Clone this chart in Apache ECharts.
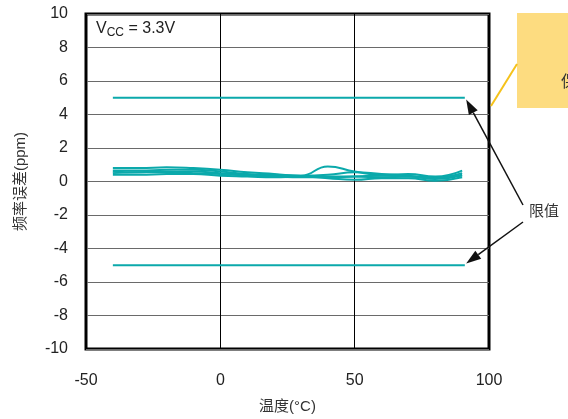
<!DOCTYPE html>
<html>
  <head>
    <meta charset="utf-8" />
  </head>
  <body style="margin:0;background:#fff;">
  <div id="main" style="width: 568px;height:419px;"></div>

  <script type="text/javascript" src="https://cdn.jsdelivr.net/npm/echarts@6/dist/echarts.min.js"></script>
  <script type="text/javascript">
      // 温度点 (°C)
      var temps = [-40, -30, -20, -10, 0, 10, 20, 30, 40, 50, 60, 70, 80, 90];
      // 各样品频率误差 (ppm)
      var dev1 = [0.8, 0.8, 0.85, 0.8, 0.7, 0.55, 0.45, 0.35, 0.9, 0.6, 0.4, 0.45, 0.3, 0.65];
      var dev2 = [0.65, 0.65, 0.7, 0.7, 0.6, 0.45, 0.4, 0.35, 0.4, 0.55, 0.45, 0.35, 0.25, 0.5];
      var dev3 = [0.5, 0.55, 0.55, 0.6, 0.5, 0.4, 0.35, 0.3, 0.3, 0.3, 0.25, 0.3, 0.15, 0.35];
      var dev4 = [0.4, 0.4, 0.45, 0.45, 0.35, 0.3, 0.25, 0.3, 0.2, 0.1, 0.2, 0.2, 0.05, 0.25];
      var dev5 = [0.6, 0.55, 0.6, 0.5, 0.45, 0.35, 0.3, 0.25, 0.25, 0.3, 0.35, 0.3, 0.2, 0.4];
      // 限值
      var limitX = [-40, 91];
      var upperLimit = [5, 5];
      var lowerLimit = [-5, -5];
      var xTicks = [-50, 0, 50, 100];
      var yTicks = [-10, -8, -6, -4, -2, 0, 2, 4, 6, 8, 10];

      var font = "'Liberation Sans', 'Noto Sans CJK SC', sans-serif";
      var teal = '#0ba9ab';

      function pairs(xs, ys) {
        return xs.map(function (x, i) { return [x, ys[i]]; });
      }

      var myChart = echarts.init(document.getElementById('main'));

      var devSeries = [dev1, dev2, dev3, dev4, dev5].map(function (d) {
        return {
          type: 'line', data: pairs(temps, d), smooth: true, symbol: 'none',
          lineStyle: { color: teal, width: 2 }, z: 3
        };
      });
      var limitSeries = [upperLimit, lowerLimit].map(function (d) {
        return {
          type: 'line', data: pairs(limitX, d), symbol: 'none',
          lineStyle: { color: teal, width: 2 }, z: 3
        };
      });

      var option = {
        animation: false,
        grid: {
          left: 86, top: 14, width: 403, height: 336,
          show: true, borderColor: '#000', borderWidth: 3, backgroundColor: 'transparent'
        },
        xAxis: {
          type: 'value', min: -50, max: 100, interval: 50,
          name: '温度(°C)', nameLocation: 'middle', nameGap: 50,
          nameTextStyle: { fontFamily: font, fontSize: 15, color: '#333' },
          axisLine: { show: false }, axisTick: { show: false },
          axisLabel: { fontFamily: font, fontSize: 16, color: '#222', margin: 24,
            formatter: function (v) { return xTicks.indexOf(v) >= 0 ? String(v) : ''; } },
          splitLine: { show: true, lineStyle: { color: '#000', width: 1 } }
        },
        yAxis: {
          type: 'value', min: -10, max: 10, interval: 2,
          name: '频率误差(ppm)', nameLocation: 'middle', nameGap: 58,
          nameTextStyle: { fontFamily: font, fontSize: 15, color: '#333' },
          axisLine: { show: false }, axisTick: { show: false },
          axisLabel: { fontFamily: font, fontSize: 16, color: '#222', margin: 18,
            formatter: function (v) { return yTicks.indexOf(v) >= 0 ? String(v) : ''; } },
          splitLine: { show: true, lineStyle: { color: '#6a6a6a', width: 1 } }
        },
        series: limitSeries.concat(devSeries)
      };
      myChart.setOption(option);

      // 注释：箭头指向限值线末端
      var tipUp = myChart.convertToPixel({ gridIndex: 0 }, [91.5, 4.9]);
      var tipDn = myChart.convertToPixel({ gridIndex: 0 }, [91.5, -4.9]);
      function arrow(from, to) {
        var dx = to[0] - from[0], dy = to[1] - from[1];
        var len = Math.sqrt(dx * dx + dy * dy);
        var ux = dx / len, uy = dy / len;
        var hl = 15, hw = 5;
        var bx = to[0] - ux * hl, by = to[1] - uy * hl;
        return [
          { type: 'line', shape: { x1: from[0], y1: from[1], x2: bx, y2: by },
            style: { stroke: '#111', lineWidth: 1.5 }, z: 10 },
          { type: 'polygon', shape: { points: [to, [bx - uy * hw, by + ux * hw], [bx + uy * hw, by - ux * hw]] },
            style: { fill: '#111' }, z: 10 }
        ];
      }
      var graphics = []
        .concat(arrow([523, 205], tipUp))
        .concat(arrow([523, 222], tipDn));
      graphics.push(
        { type: 'text', left: 529, top: 204, z: 10,
          style: { text: '限值', font: '15px ' + font, fill: '#333' } },
        { type: 'rect', shape: { x: 517, y: 13, width: 60, height: 95 },
          style: { fill: '#fddc80' }, z: 9 },
        { type: 'text', left: 561, top: 75, z: 10,
          style: { text: '保', font: '16px ' + font, fill: '#333' } },
        { type: 'line', shape: { x1: 491, y1: 106, x2: 517, y2: 64 },
          style: { stroke: '#f5c21a', lineWidth: 2 }, z: 9 },
        { type: 'text', left: 96, top: 21, z: 10,
          style: { rich: { n: { fontSize: 16, fontFamily: font, fill: '#222' },
                           s: { fontSize: 12, fontFamily: font, fill: '#222', padding: [8, 0, 0, 0] } },
                   text: '{n|V}{s|CC}{n| = 3.3V}' } }
      );
      myChart.setOption({ graphic: graphics });
  </script>
</body>
</html>
